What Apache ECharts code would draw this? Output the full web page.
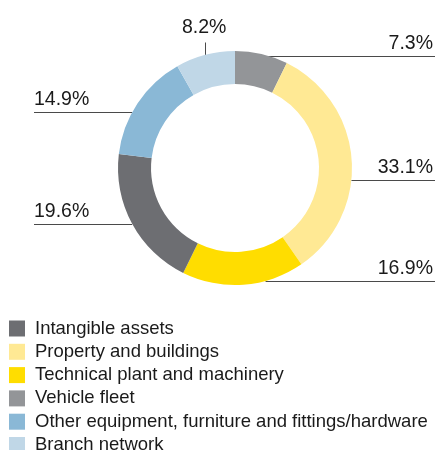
<!DOCTYPE html>
<html>
<head>
<meta charset="utf-8">
<style>
  html, body { margin: 0; padding: 0; background: #ffffff; }
  #chart { width: 436px; height: 450px; }
</style>
<script src="https://cdn.jsdelivr.net/npm/echarts@6/dist/echarts.min.js"></script>
</head>
<body>
<div id="chart"></div>
<script>
// Slices in drawing order, clockwise from 12 o'clock
const categories = [
  'Vehicle fleet',
  'Property and buildings',
  'Technical plant and machinery',
  'Intangible assets',
  'Other equipment, furniture and fittings/hardware',
  'Branch network'
];
const shares = [7.3, 33.1, 16.9, 19.6, 14.9, 8.2];
const colors = ['#939598', '#ffe994', '#ffdd00', '#6d6e72', '#8ab8d6', '#c0d7e7'];

// Legend reading order
const legendOrder = [
  'Intangible assets',
  'Property and buildings',
  'Technical plant and machinery',
  'Vehicle fleet',
  'Other equipment, furniture and fittings/hardware',
  'Branch network'
];

// Leader line styling: where on the rim each line leaves (degrees of turn
// away from the slice middle) and whether it runs sideways or straight up.
const leaderTurn = [3, 10, -11, 0, -5, 0];
const leaderKind = ['side', 'side', 'side', 'side', 'side', 'stem'];

const CX = 235, CY = 168;
const LEFT_EDGE = 34, RIGHT_EDGE = 435;
const FONT = '"Liberation Sans", Arial, Helvetica, sans-serif';

const chart = echarts.init(document.getElementById('chart'), null, { renderer: 'canvas' });

chart.setOption({
  animation: false,
  color: colors,
  legend: {
    orient: 'vertical',
    left: 9,
    top: 319,
    height: 300,
    padding: 0,
    itemWidth: 16,
    itemHeight: 16,
    itemGap: 4.3,
    icon: 'rect',
    selectedMode: false,
    data: legendOrder,
    textStyle: {
      fontFamily: FONT,
      fontSize: 18.5,
      color: '#1a1a1a',
      padding: [0, 0, 0, 5]
    }
  },
  series: [{
    type: 'pie',
    center: [CX, CY],
    radius: [84, 117],
    startAngle: 90,
    clockwise: true,
    avoidLabelOverlap: false,
    emphasis: { disabled: true },
    itemStyle: { borderWidth: 0 },
    data: categories.map((name, i) => ({ name: name, value: shares[i] })),
    label: {
      show: true,
      position: 'outside',
      formatter: (p) => p.value.toFixed(1) + '%',
      fontFamily: FONT,
      fontSize: 19.5,
      color: '#1a1a1a'
    },
    labelLine: {
      show: true,
      length: 10,
      length2: 10,
      lineStyle: { color: '#4a4a4a', width: 1 }
    },
    labelLayout: function (p) {
      const pts = p.labelLinePoints;
      if (!pts) return {};
      const i = p.dataIndex;
      const dx = pts[0][0] - CX;
      const dy = pts[0][1] - CY;
      const r = Math.sqrt(dx * dx + dy * dy);
      const a = Math.atan2(dx, -dy) + leaderTurn[i] * Math.PI / 180;
      const x0 = CX + r * Math.sin(a);
      const y0 = Math.round(CY - r * Math.cos(a)) + 0.5;
      if (leaderKind[i] === 'stem') {
        return {
          x: x0 - 1,
          y: y0 - 18,
          align: 'center',
          verticalAlign: 'bottom',
          labelLinePoints: [[Math.round(x0) + 0.5, y0], [Math.round(x0) + 0.5, y0 - 13]]
        };
      }
      const right = x0 > CX;
      const ex = right ? RIGHT_EDGE : LEFT_EDGE;
      return {
        x: right ? RIGHT_EDGE - 2 : LEFT_EDGE,
        y: y0 - 3,
        align: right ? 'right' : 'left',
        verticalAlign: 'bottom',
        labelLinePoints: [[x0, y0], [ex, y0]]
      };
    }
  }]
});
</script>
</body>
</html>
